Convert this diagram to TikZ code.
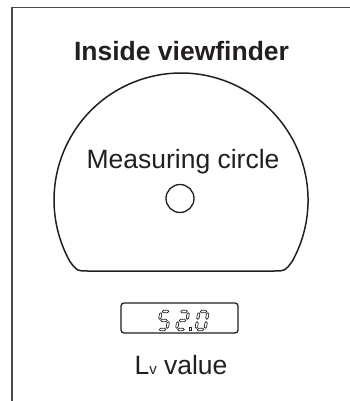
\documentclass[tikz,border=0pt]{standalone}
\usepackage{fontspec}
\setmainfont{Liberation Sans}
\definecolor{ink}{HTML}{231F20}
\definecolor{framegray}{HTML}{4A4A4A}
\tikzset{
  frameline/.style={draw=framegray, line width=1.4pt},
  outline/.style={draw=ink, line width=1.5pt},
  lcdbox/.style={draw=ink, line width=1.3pt, rounded corners=3pt},
  segline/.style={draw=ink, line width=0.7pt, line join=round},
  lbl/.style={text=ink, inner sep=0pt, anchor=base},
}
\newcommand\hsegm[3]{\draw[segline] (#1,#3) -- (#1+1.2,#3+1.2) -- (#2-1.2,#3+1.2) -- (#2,#3) -- (#2-1.2,#3-1.2) -- (#1+1.2,#3-1.2) -- cycle;}
\newcommand\vsegm[3]{\draw[segline] (#1,#2) -- (#1+1.2,#2+1.2) -- (#1+1.2,#3-1.2) -- (#1,#3) -- (#1-1.2,#3-1.2) -- (#1-1.2,#2+1.2) -- cycle;}
% segments: local frame, y up, width 9, height 18
\newcommand\sgA{\hsegm{1.2}{7.8}{18}}
\newcommand\sgG{\hsegm{1.2}{7.8}{9}}
\newcommand\sgD{\hsegm{1.2}{7.8}{0}}
\newcommand\sgF{\vsegm{0}{10.2}{16.8}}
\newcommand\sgE{\vsegm{0}{1.2}{7.8}}
\newcommand\sgB{\vsegm{9}{10.2}{16.8}}
\newcommand\sgC{\vsegm{9}{1.2}{7.8}}
\begin{document}
\begin{tikzpicture}[x=1pt,y=-1pt]
\useasboundingbox (0,0) rectangle (350,401);
% frame (top and left edges only)
\draw[frameline] (350,7.5) -- (12,7.5) -- (12,401);
% title
\node[lbl, font=\fontsize{26.5}{26.5}\selectfont\bfseries] (title) at (181.5,61) {Inside viewfinder};
% truncated viewfinder circle
\draw[outline] (88,271) -- (274,271) .. controls (285,271) .. (292.1,261.6)
  arc[start angle=29, end angle=-209, radius=127]
  .. controls (77,271) .. (88,271) -- cycle;
\node[lbl, font=\fontsize{26.5}{26.5}\selectfont] (meas) at (183,168) {Measuring circle};
% measuring circle
\draw[outline, line width=1.3pt] (180,198.5) circle[radius=14];
% LCD display
\draw[lcdbox] (121,303) rectangle (238,333);
\begin{scope}[shift={(158,329.5)}, x=1pt, y=1pt, xslant=0.17]
  \sgA \sgF \sgG \sgC \sgD
\end{scope}
\begin{scope}[shift={(176.5,329.5)}, x=1pt, y=1pt, xslant=0.17]
  \sgA \sgB \sgG \sgE \sgD
\end{scope}
\draw[segline] (189.4,327.6) rectangle (191.8,330);
\begin{scope}[shift={(196,329.5)}, x=1pt, y=1pt, xslant=0.17]
  \sgA \sgB \sgC \sgD \sgE \sgF
\end{scope}
\node[lbl, font=\fontsize{26.5}{26.5}\selectfont] (lv) at (181,374) {L{\fontsize{15}{15}\selectfont v} value};
\end{tikzpicture}
\end{document}
